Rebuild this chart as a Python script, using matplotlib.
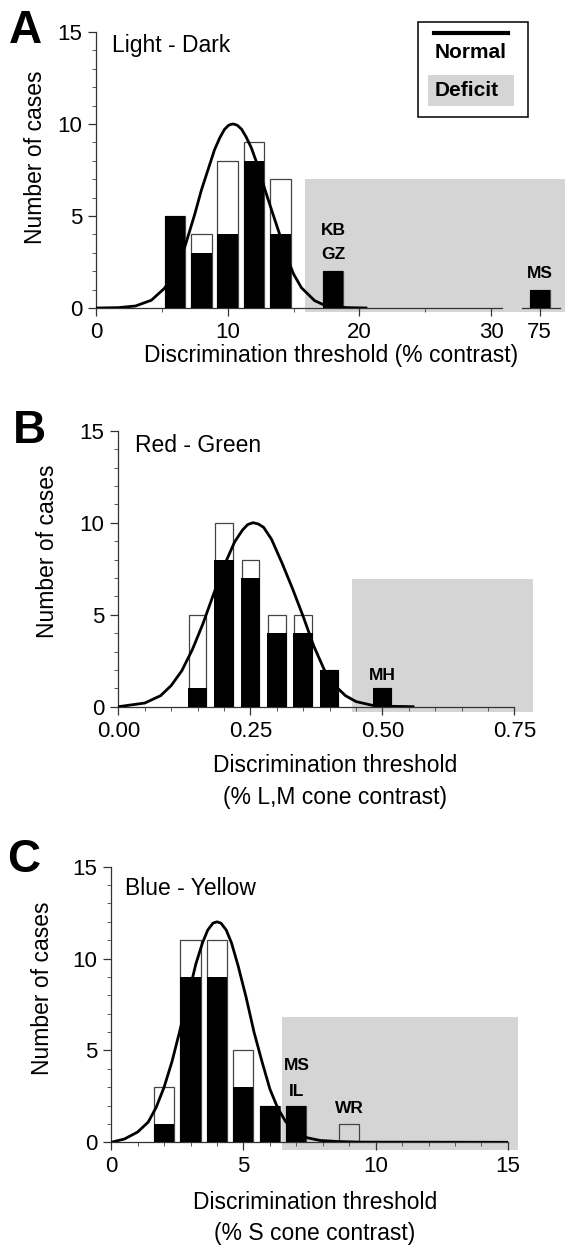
import matplotlib
matplotlib.use('Agg')
import matplotlib.pyplot as plt
from matplotlib.patches import Rectangle
from matplotlib.lines import Line2D
from matplotlib.ticker import MultipleLocator, NullLocator, FixedLocator

plt.rcParams['font.family'] = ['Liberation Sans', 'DejaVu Sans']

# ---- data ----
# A: Light - Dark
a_x = [6, 8, 10, 12, 14, 18]
a_black = [5, 3, 4, 8, 4, 2]
a_total = [5, 4, 8, 9, 7, 2]
a_far_x = [75]
a_far_black = [1]
a_curve_x = [0, 1.7, 3.0, 4.2, 5.2, 5.8, 6.3, 6.8, 7.5, 8.0, 8.5, 9.0, 9.4, 9.75, 10.05, 10.25,
             10.4, 10.55, 10.75, 11.05, 11.4, 11.8, 12.3, 12.8, 13.3, 13.9, 14.5, 15.0, 15.6,
             16.6, 17.3, 18.0, 19.1, 20.5]
a_curve_y = [0, 0.02, 0.11, 0.42, 1.07, 1.74, 2.5, 3.45, 5.1, 6.4, 7.5, 8.6, 9.25, 9.7, 9.92, 9.98,
             10.0, 9.98, 9.92, 9.72, 9.3, 8.7, 7.7, 6.5, 5.4, 4.1, 2.75, 1.85, 1.1,
             0.4, 0.17, 0.07, 0.02, 0.0]
a_deficit = [15.9, 35.6, -0.2, 7.0]   # x0, x1, y0, y1
a_names = ['KB', 'GZ']
a_names_pos = [(18, 4.2), (18, 2.9)]
a_far_names = ['MS']
a_far_names_pos = [(75, 1.9)]

# B: Red - Green
b_x = [0.15, 0.20, 0.25, 0.30, 0.35, 0.40, 0.50]
b_black = [1, 8, 7, 4, 4, 2, 1]
b_total = [5, 10, 8, 5, 5, 2, 1]
b_curve_x = [0, 0.05, 0.08, 0.10, 0.12, 0.14, 0.16, 0.18, 0.20, 0.22, 0.235, 0.245, 0.255,
             0.265, 0.275, 0.29, 0.31, 0.33, 0.35, 0.37, 0.39, 0.41, 0.43, 0.45, 0.48, 0.52, 0.558]
b_curve_y = [0, 0.2, 0.6, 1.15, 1.95, 3.1, 4.5, 6.1, 7.65, 8.95, 9.6, 9.9, 10.0,
             9.93, 9.75, 9.1, 7.8, 6.4, 4.9, 3.3, 2.0, 1.15, 0.6, 0.28, 0.08, 0.02, 0.0]
b_deficit = [0.442, 0.786, -0.27, 6.96]
b_names = ['MH']
b_names_pos = [(0.5, 1.72)]

# C: Blue - Yellow
c_x = [2, 3, 4, 5, 6, 7, 9]
c_black = [1, 9, 9, 3, 2, 2, 0]
c_total = [3, 11, 11, 5, 2, 2, 1]
c_curve_x = [0, 0.5, 1.0, 1.4, 1.7, 2.0, 2.3, 2.6, 2.9, 3.2, 3.45, 3.65, 3.85, 4.0, 4.15,
             4.35, 4.55, 4.8, 5.1, 5.4, 5.7, 6.0, 6.3, 6.6, 7.0, 7.4, 7.9, 8.6, 9.4, 15.0]
c_curve_y = [0, 0.18, 0.56, 1.1, 1.9, 3.0, 4.4, 6.1, 7.9, 9.7, 10.85, 11.55, 11.93, 12.0, 11.93,
             11.55, 10.85, 9.6, 7.9, 6.0, 4.4, 2.9, 1.85, 1.12, 0.55, 0.25, 0.1, 0.04, 0.01, 0.0]
c_deficit = [6.47, 15.38, -0.42, 6.8]
c_names = ['MS', 'IL', 'WR']
c_names_pos = [(7, 4.17), (7, 2.79), (9, 1.85)]

GREY = '#d5d5d5'
W, H = 566, 1248
fig = plt.figure(figsize=(W / 100, H / 100), dpi=100)


def add_ax(l, t, r, b):
    return fig.add_axes([l / W, 1 - b / H, (r - l) / W, (b - t) / H])


def style(ax, left=True):
    for s in ['top', 'right']:
        ax.spines[s].set_visible(False)
    for s in ['left', 'bottom']:
        ax.spines[s].set_linewidth(0.9)
        ax.spines[s].set_color('#333333')
    ax.set_ylim(0, 15)
    ax.tick_params(which='major', direction='out', length=6, width=0.9,
                   color='#333333', labelsize=16, pad=4)
    ax.tick_params(which='minor', direction='out', length=3, width=0.7, color='#555555')
    if left:
        ax.yaxis.set_major_locator(FixedLocator([0, 5, 10, 15]))
        ax.yaxis.set_minor_locator(MultipleLocator(1))
        ax.set_ylabel('Number of cases', fontsize=16.5)
        ax.yaxis.label.set_va('center')
    else:
        ax.spines['left'].set_visible(False)
        ax.set_yticks([])


def draw_bars(ax, x, total, black, w_total, w_black):
    ax.bar(x, total, width=w_total, facecolor='none', edgecolor='#444444',
           linewidth=0.9, zorder=2)
    ax.bar(x, black, width=w_black, color='black', linewidth=0, zorder=4)


def deficit(ax, box):
    x0, x1, y0, y1 = box
    ax.add_patch(Rectangle((x0, y0), x1 - x0, y1 - y0, facecolor=GREY,
                           edgecolor='none', clip_on=False, zorder=0))


def names(ax, labels, pos):
    for lab, (x, y) in zip(labels, pos):
        ax.text(x, y, lab, ha='center', va='center', fontsize=12.5,
                fontweight='bold', zorder=5)


# ---------------- Panel A ----------------
axA = add_ax(96, 32, 501.6, 308)
axA2 = add_ax(521.7, 32, 559.6, 308)
axA2.set_facecolor('none')
style(axA)
style(axA2, left=False)
axA.set_xlim(0, 30.8)
axA.xaxis.set_major_locator(FixedLocator([0, 10, 20, 30]))
axA.xaxis.set_minor_locator(FixedLocator([5, 15, 25]))
axA2.set_xlim(73.63, 76.51)
axA2.xaxis.set_major_locator(FixedLocator([75]))
axA2.xaxis.set_minor_locator(NullLocator())
deficit(axA, a_deficit)
draw_bars(axA, a_x, a_total, a_black, 1.55, 1.55)
axA.plot(a_curve_x, a_curve_y, color='black', lw=2.0, zorder=3)
draw_bars(axA2, a_far_x, a_far_black, a_far_black, 1.55, 1.55)
names(axA, a_names, a_names_pos)
names(axA2, a_far_names, a_far_names_pos)
axA.text(0.039, 0.929, 'Light - Dark', transform=axA.transAxes, fontsize=16.5,
         ha='left', va='baseline')
axA.set_xlabel('Discrimination threshold (% contrast)', fontsize=16.5)
axA.xaxis.label.set_va('center')
axA.xaxis.set_label_coords(0.579, -0.172)
axA.yaxis.set_label_coords(-0.150, 0.545)

# ---------------- Panel B ----------------
axB = add_ax(118.4, 430.7, 514.4, 706.7)
style(axB)
axB.set_xlim(0, 0.75)
axB.xaxis.set_major_locator(FixedLocator([0, 0.25, 0.5, 0.75]))
axB.xaxis.set_minor_locator(MultipleLocator(0.05))
axB.set_xticklabels(['0.00', '0.25', '0.50', '0.75'])
deficit(axB, b_deficit)
draw_bars(axB, b_x, b_total, b_black, 0.033, 0.037)
axB.plot(b_curve_x, b_curve_y, color='black', lw=2.0, zorder=3)
names(axB, b_names, b_names_pos)
axB.text(0.043, 0.924, 'Red - Green', transform=axB.transAxes, fontsize=16.5,
         ha='left', va='baseline')
axB.set_xlabel('Discrimination threshold\n(% L,M cone contrast)', fontsize=16.5,
               linespacing=1.45)
axB.xaxis.label.set_va('center')
axB.xaxis.set_label_coords(0.547, -0.271)
axB.yaxis.set_label_coords(-0.180, 0.565)

# ---------------- Panel C ----------------
axC = add_ax(111.2, 866.7, 507.9, 1142.3)
style(axC)
axC.set_xlim(0, 15)
axC.xaxis.set_major_locator(FixedLocator([0, 5, 10, 15]))
axC.xaxis.set_minor_locator(MultipleLocator(1))
deficit(axC, c_deficit)
draw_bars(axC, c_x, c_total, c_black, 0.76, 0.76)
axC.plot(c_curve_x, c_curve_y, color='black', lw=2.0, zorder=3)
names(axC, c_names, c_names_pos)
axC.text(0.034, 0.897, 'Blue - Yellow', transform=axC.transAxes, fontsize=16.5,
         ha='left', va='baseline')
axC.set_xlabel('Discrimination threshold\n(% S cone contrast)', fontsize=16.5,
               linespacing=1.45)
axC.xaxis.label.set_va('center')
axC.xaxis.set_label_coords(0.514, -0.275)
axC.yaxis.set_label_coords(-0.173, 0.56)

# panel letters
for lab, (px, py) in zip(['A', 'B', 'C'], [(25.5, 43.3), (29, 443.3), (24, 871.5)]):
    fig.text(px / W, 1 - py / H, lab, fontsize=33, fontweight='bold',
             ha='center', va='baseline')

# legend (top right of panel A)
fig.patches.append(Rectangle((418 / W, 1 - 117 / H), 110 / W, 95 / H,
                             transform=fig.transFigure, facecolor='white',
                             edgecolor='black', linewidth=1.1, zorder=6))
fig.lines.append(Line2D([434 / W, 508 / W], [1 - 33 / H, 1 - 33 / H],
                        transform=fig.transFigure, color='black', lw=3, zorder=7))
fig.text(471 / W, 1 - 53 / H, 'Normal', fontsize=15, fontweight='bold',
         ha='center', va='center', zorder=7)
fig.patches.append(Rectangle((427.8 / W, 1 - 106 / H), 86.6 / W, 31 / H,
                             transform=fig.transFigure, facecolor=GREY,
                             edgecolor='none', zorder=7))
fig.text(435 / W, 1 - 90 / H, 'Deficit', fontsize=15, fontweight='bold',
         ha='left', va='center', zorder=8)

fig.savefig('out.png', dpi=100)
